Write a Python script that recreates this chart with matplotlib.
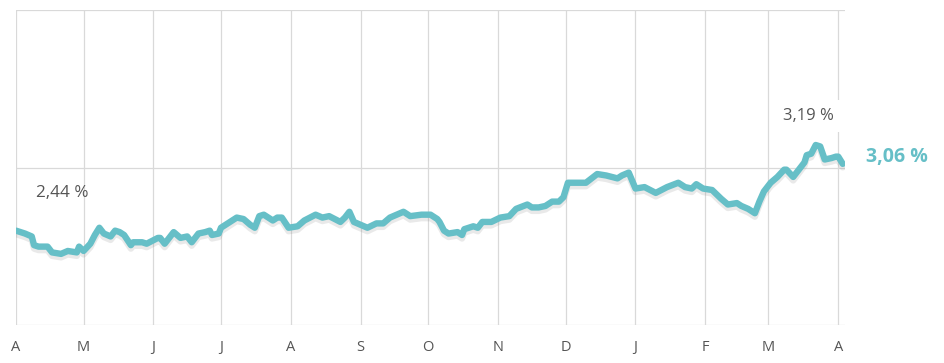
import matplotlib
matplotlib.use("Agg")
import matplotlib.pyplot as plt
import matplotlib.patheffects as pe
import pandas as pd
import numpy as np

# ---- data ----
start_date = "2018-04-01"
day_offsets = [0, 4, 7, 8, 10, 14, 16, 20, 23, 27, 28, 30, 33, 35, 37, 39, 42, 44, 46, 48,
               51, 52, 56, 58, 63, 64, 66, 70, 73, 76, 78, 81, 84, 86, 87, 90, 91, 95, 98, 101,
               104, 106, 108, 110, 114, 116, 118, 121, 125, 128, 133, 136, 139, 144, 146, 148, 150, 156, 160, 163,
               166, 172, 175, 180, 184, 187, 188, 190, 192, 196, 198, 199, 203, 205, 207, 211, 215, 219, 222, 227,
               229, 232, 235, 238, 241, 243, 245, 249, 253, 258, 262, 267, 269, 272, 275, 279, 284, 289, 294, 297,
               300, 302, 305, 309, 311, 313, 316, 320, 322, 325, 328, 330, 332, 335, 338, 341, 342, 345, 347, 350,
               351, 353, 355, 357, 359, 362, 364, 365, 367]
yield_pct = [2.60, 2.58, 2.56, 2.50, 2.49, 2.49, 2.45, 2.44, 2.46, 2.45, 2.49, 2.46, 2.51, 2.57, 2.62, 2.58, 2.56, 2.60, 2.59, 2.57,
             2.50, 2.52, 2.52, 2.51, 2.55, 2.55, 2.51, 2.59, 2.55, 2.56, 2.52, 2.58, 2.59, 2.60, 2.57, 2.58, 2.62, 2.66, 2.69, 2.68,
             2.64, 2.62, 2.70, 2.71, 2.67, 2.69, 2.69, 2.62, 2.63, 2.67, 2.71, 2.69, 2.70, 2.66, 2.69, 2.73, 2.66, 2.62, 2.65, 2.65,
             2.69, 2.73, 2.70, 2.71, 2.71, 2.68, 2.66, 2.60, 2.58, 2.59, 2.57, 2.61, 2.63, 2.62, 2.66, 2.66, 2.69, 2.70, 2.75, 2.78,
             2.76, 2.76, 2.77, 2.80, 2.80, 2.83, 2.93, 2.93, 2.93, 2.99, 2.98, 2.96, 2.98, 3.00, 2.89, 2.90, 2.86, 2.90, 2.93, 2.90,
             2.89, 2.92, 2.89, 2.88, 2.85, 2.82, 2.78, 2.79, 2.77, 2.75, 2.72, 2.80, 2.87, 2.93, 2.97, 3.02, 3.02, 2.97, 3.01, 3.07,
             3.12, 3.13, 3.19, 3.18, 3.09, 3.10, 3.11, 3.11, 3.06]
month_letters = ["A", "M", "J", "J", "A", "S", "O", "N", "D", "J", "F", "M", "A"]

dates = pd.Timestamp(start_date) + pd.to_timedelta(day_offsets, unit="D")
month_starts = pd.date_range("2018-04-01", "2019-04-01", freq="MS")

teal = "#66bfc7"
grid_c = "#d9d9d9"
text_c = "#555555"

fig = plt.figure(figsize=(9.44, 3.63), dpi=100)
ax = fig.add_axes([16/944, 1 - 325/363, (845 - 16)/944, (325 - 10)/363])

ax.plot(dates, yield_pct, color=teal, lw=4.6, solid_joinstyle="round", solid_capstyle="round", zorder=3,
        path_effects=[pe.SimpleLineShadow(offset=(0, -2.5), shadow_color="#888888", alpha=0.18),
                      pe.Normal()])

ymin, ymax = 1.95, 4.12
ax.set_ylim(ymin, ymax)
ax.set_xlim(pd.Timestamp(start_date), pd.Timestamp(start_date) + pd.Timedelta(days=368))

ax.set_yticks([ymin, (ymin + ymax) / 2, ymax])
ax.set_yticklabels([])
ax.set_xticks(month_starts)
ax.set_xticklabels(month_letters, fontsize=10.5, color=text_c, family="Open Sans")
ax.tick_params(length=0, pad=11)
ax.tick_params(axis="y", length=0, pad=0)
ax.grid(True, color=grid_c, lw=0.9)
ax.set_axisbelow(True)
for s in ax.spines.values():
    s.set_visible(False)

# annotations
vals = np.array(yield_pct)
imin = int(np.argmin(vals))
imax = int(np.argmax(vals))
fmt = lambda v: f"{v:.2f} %".replace(".", ",")
ax.annotate(fmt(vals[imin]), (dates[imin], vals[imin]), xytext=(1, 44), textcoords="offset points",
            ha="center", va="center", fontsize=12.3, color=text_c, family="Open Sans", zorder=4)
ax.annotate(fmt(vals[imax]), (dates[imax], vals[imax]), xytext=(-5, 21), textcoords="offset points",
            ha="center", va="center", fontsize=12, color=text_c, family="Open Sans", zorder=4,
            bbox=dict(boxstyle="square,pad=0.5", fc="white", ec="none"))
ax.annotate(fmt(vals[-1]), (dates[-1], vals[-1]), xytext=(17, 5), textcoords="offset points",
            ha="left", va="center", fontsize=14, color=teal, family="Open Sans", fontweight="bold",
            annotation_clip=False, zorder=4)

fig.savefig("out.png", dpi=100)
